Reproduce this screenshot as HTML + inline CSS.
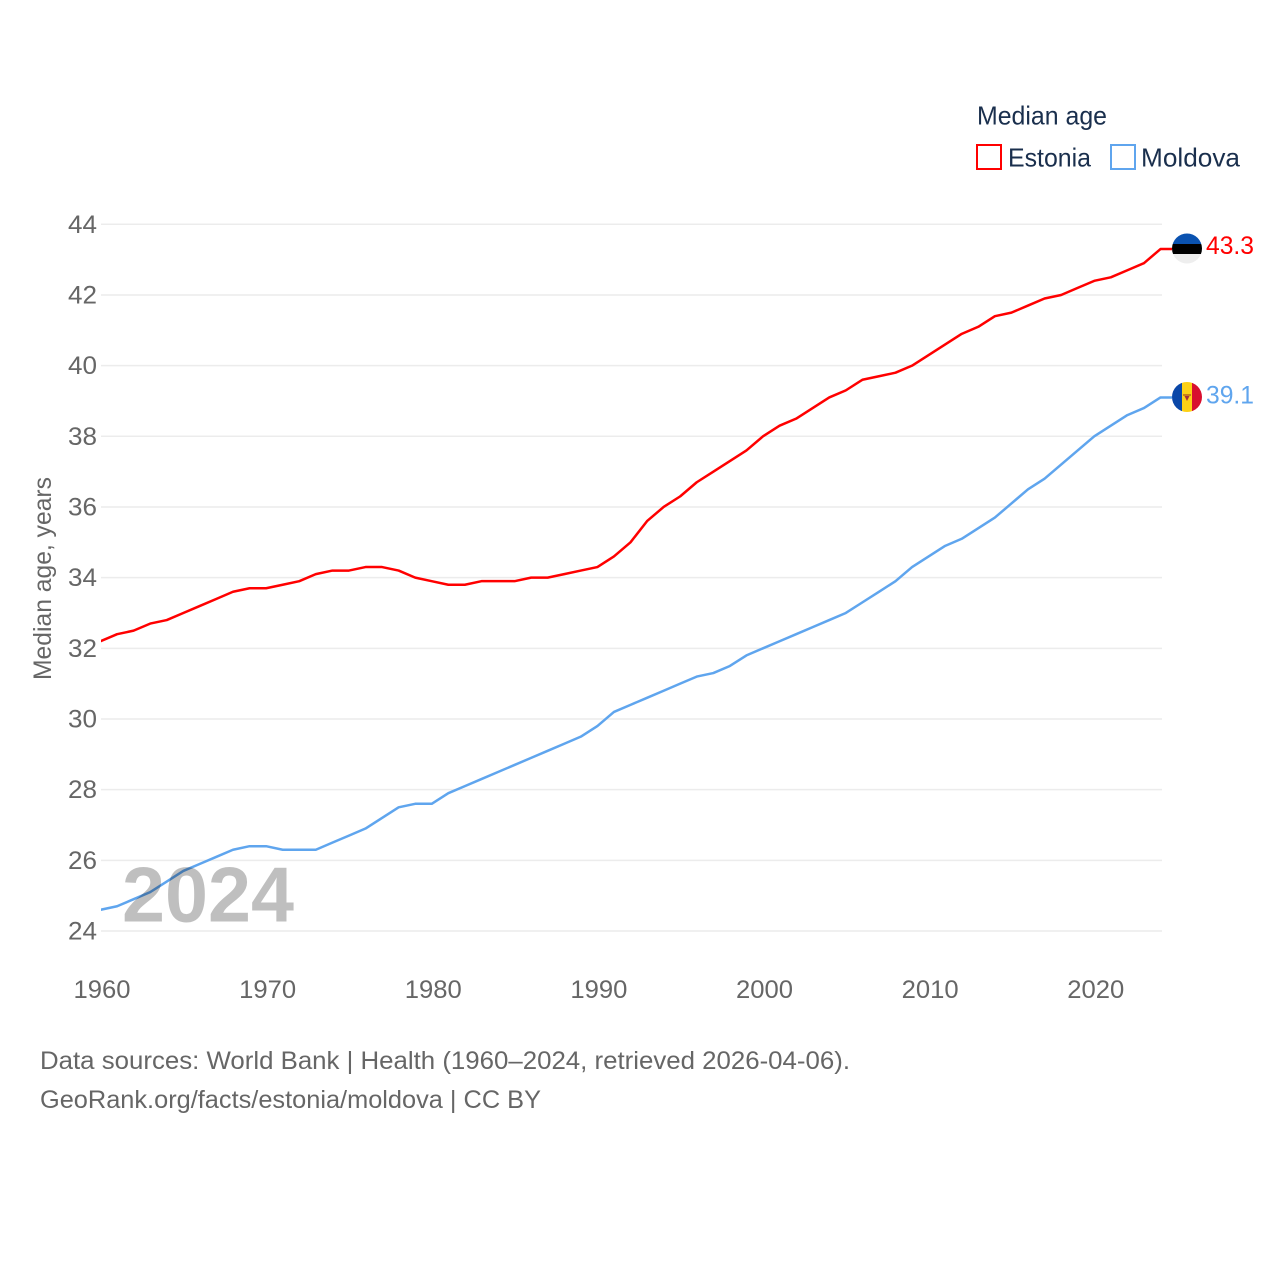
<!DOCTYPE html>
<html lang="en">
<head>
<meta charset="utf-8">
<title>Median age: Estonia and Moldova</title>
<style>
html,body{margin:0;padding:0;background:#fff;}
svg{display:block;font-family:"Liberation Sans",sans-serif;}
</style>
</head>
<body>
<svg id="chart" xmlns="http://www.w3.org/2000/svg" width="1280" height="1280" viewBox="0 0 1280 1280">
  <defs>
    <clipPath id="series-clip"><rect x="101" y="200" width="80" height="760"/><rect x="181" y="200" width="1000" height="760"/></clipPath>
    <clipPath id="flag-clip-ee"><circle cx="1187" cy="248.5" r="15"/></clipPath>
    <clipPath id="flag-clip-md"><circle cx="1187" cy="397" r="15"/></clipPath>
  </defs>
  <rect x="0" y="0" width="1280" height="1280" fill="#fff"/>
  <g id="grid"></g>
  <g id="y-ticks"></g>
  <g id="x-ticks"></g>
  <g id="series" clip-path="url(#series-clip)"></g>
  <text x="122" y="921.5" font-size="78" font-weight="700" fill="#000" fill-opacity="0.25" textLength="172" lengthAdjust="spacingAndGlyphs">2024</text>
  <text transform="translate(51,680) rotate(-90)" x="0" y="0" font-size="25" fill="#666" textLength="203" lengthAdjust="spacingAndGlyphs">Median age, years</text>

  <g>
    <text x="977" y="124.5" font-size="26" fill="#1a2f4d" textLength="130" lengthAdjust="spacingAndGlyphs">Median age</text>
    <rect x="977" y="145" width="24" height="24" fill="#fff" stroke="#f00" stroke-width="2"/>
    <text x="1008" y="166.5" font-size="26" fill="#1a2f4d" textLength="83" lengthAdjust="spacingAndGlyphs">Estonia</text>
    <rect x="1111" y="145" width="24" height="24" fill="#fff" stroke="#5fa5ee" stroke-width="2"/>
    <text x="1141" y="166.5" font-size="26" fill="#1a2f4d" textLength="99" lengthAdjust="spacingAndGlyphs">Moldova</text>
  </g>

  <g clip-path="url(#flag-clip-ee)">
    <rect x="1172" y="233" width="30" height="11" fill="#0a52b0"/>
    <rect x="1172" y="244" width="30" height="10" fill="#000"/>
    <rect x="1172" y="254" width="30" height="11" fill="#eeeeee"/>
  </g>
  <g clip-path="url(#flag-clip-md)">
    <rect x="1172" y="382" width="10" height="30" fill="#0a47a8"/>
    <rect x="1182" y="382" width="10" height="30" fill="#fcd116"/>
    <rect x="1192" y="382" width="10" height="30" fill="#d80f2e"/>
    <rect x="1183" y="394" width="8" height="2" fill="#c8801a"/>
    <path d="M1184.5 396h5l-2.5 5z" fill="#a6303a"/>
  </g>
  <text x="1206" y="254" font-size="25" fill="#f00" textLength="48" lengthAdjust="spacingAndGlyphs">43.3</text>
  <text x="1206" y="403.5" font-size="25" fill="#5fa5ee" textLength="48" lengthAdjust="spacingAndGlyphs">39.1</text>

  <text x="40" y="1069" font-size="25" fill="#666" textLength="810" lengthAdjust="spacingAndGlyphs">Data sources: World Bank | Health (1960–2024, retrieved 2026-04-06).</text>
  <text x="40" y="1108" font-size="25" fill="#666" textLength="501" lengthAdjust="spacingAndGlyphs">GeoRank.org/facts/estonia/moldova | CC BY</text>
</svg>
<script>
const startYear = 1960;
const yTickValues = [24, 26, 28, 30, 32, 34, 36, 38, 40, 42, 44];
const xTickValues = [1960, 1970, 1980, 1990, 2000, 2010, 2020];
const estoniaValues = [
  32.2, 32.4, 32.5, 32.7, 32.8, 33.0, 33.2, 33.4, 33.6, 33.7,
  33.7, 33.8, 33.9, 34.1, 34.2, 34.2, 34.3, 34.3, 34.2, 34.0,
  33.9, 33.8, 33.8, 33.9, 33.9, 33.9, 34.0, 34.0, 34.1, 34.2,
  34.3, 34.6, 35.0, 35.6, 36.0, 36.3, 36.7, 37.0, 37.3, 37.6,
  38.0, 38.3, 38.5, 38.8, 39.1, 39.3, 39.6, 39.7, 39.8, 40.0,
  40.3, 40.6, 40.9, 41.1, 41.4, 41.5, 41.7, 41.9, 42.0, 42.2,
  42.4, 42.5, 42.7, 42.9, 43.3
];
const moldovaValues = [
  24.6, 24.7, 24.9, 25.1, 25.4, 25.7, 25.9, 26.1, 26.3, 26.4,
  26.4, 26.3, 26.3, 26.3, 26.5, 26.7, 26.9, 27.2, 27.5, 27.6,
  27.6, 27.9, 28.1, 28.3, 28.5, 28.7, 28.9, 29.1, 29.3, 29.5,
  29.8, 30.2, 30.4, 30.6, 30.8, 31.0, 31.2, 31.3, 31.5, 31.8,
  32.0, 32.2, 32.4, 32.6, 32.8, 33.0, 33.3, 33.6, 33.9, 34.3,
  34.6, 34.9, 35.1, 35.4, 35.7, 36.1, 36.5, 36.8, 37.2, 37.6,
  38.0, 38.3, 38.6, 38.8, 39.1
];

const SVG_NS = 'http://www.w3.org/2000/svg';
const plotLeft = 102, plotRight = 1162, plotTop = 224.3, plotBottom = 931;
const seriesShift = -1.5;
function xScale(year) { return plotLeft + (year - 1960) * (plotRight - plotLeft) / 64; }
function yScale(value) { return plotBottom - (value - 24) * (plotBottom - plotTop) / 20; }
function make(tag, attrs) {
  const el = document.createElementNS(SVG_NS, tag);
  for (const k in attrs) el.setAttribute(k, attrs[k]);
  return el;
}

const grid = document.getElementById('grid');
const yTicks = document.getElementById('y-ticks');
yTickValues.forEach(function (v) {
  const line = make('line', { x1: plotLeft - 1, x2: plotRight, y1: yScale(v), y2: yScale(v), stroke: '#ececec', 'stroke-width': 1.5 });
  
  
  grid.appendChild(line);
  const label = make('text', { x: 97, y: yScale(v) + 8.5, 'text-anchor': 'end', 'font-size': 25, fill: '#666', textLength: 29, lengthAdjust: 'spacingAndGlyphs' });
  
  
  label.textContent = String(v);
  yTicks.appendChild(label);
});

const xTicks = document.getElementById('x-ticks');
xTickValues.forEach(function (year) {
  const label = make('text', { x: xScale(year) - 28.5, y: 998, 'font-size': 25, fill: '#666', textLength: 57, lengthAdjust: 'spacingAndGlyphs' });
  
  
  label.textContent = String(year);
  xTicks.appendChild(label);
});

function pathFor(values) {
  const pts = values.map(function (v, i) { return (xScale(startYear + i) + seriesShift).toFixed(2) + ',' + yScale(v).toFixed(2); });
  const last = values[values.length - 1];
  pts.push('1172,' + yScale(last).toFixed(2));
  return 'M' + pts.join('L');
}
const seriesGroup = document.getElementById('series');
const moldovaLine = make('path', { d: pathFor(moldovaValues), fill: 'none', stroke: '#5fa5ee', 'stroke-width': 2.5, 'stroke-linejoin': 'round' });


seriesGroup.appendChild(moldovaLine);
const estoniaLine = make('path', { d: pathFor(estoniaValues), fill: 'none', stroke: '#f00', 'stroke-width': 2.5, 'stroke-linejoin': 'round' });


seriesGroup.appendChild(estoniaLine);
</script>
</body>
</html>
